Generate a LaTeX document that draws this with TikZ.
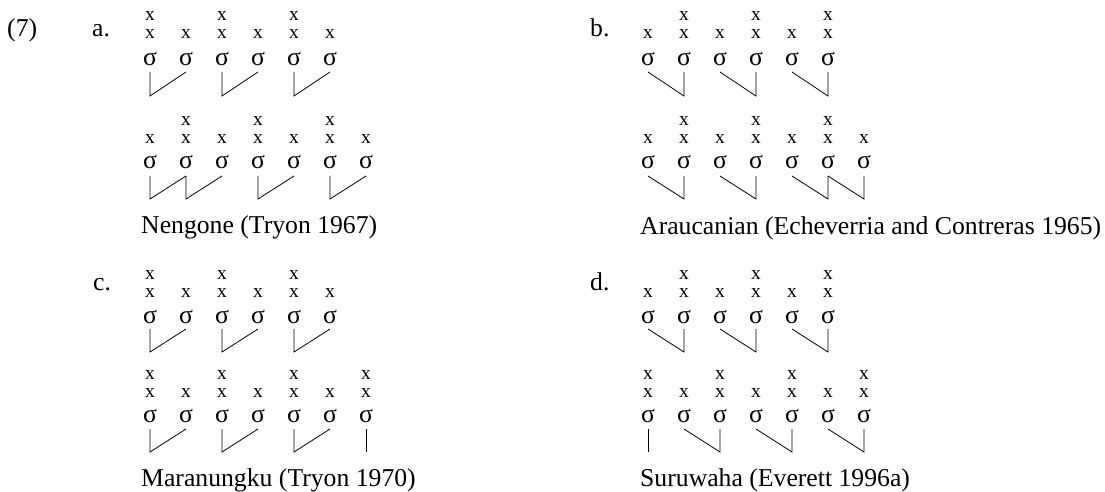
\documentclass[tikz,border=0pt]{standalone}
\usepackage{fontspec}
\setmainfont{Liberation Serif}
\usetikzlibrary{positioning,calc}
\tikzset{
  syl/.style={inner sep=0pt, anchor=base, font=\fontsize{25.7}{28}\selectfont},
  gx/.style={inner sep=0pt, anchor=base, font=\fontsize{19.5}{21}\selectfont},
  lab/.style={inner sep=0pt, anchor=base west, font=\fontsize{25.7}{28}\selectfont},
  assoc/.style={draw=black, line width=0.8pt},
}

\begin{document}
\begin{tikzpicture}[x=1pt, y=-1pt]
  \useasboundingbox (0,0) rectangle (1105,491);
  % labels
  \node[lab] (num) at (7,36) {(7)};
  \node[lab] (la) at (92,36) {a.};
  \node[lab] (lb) at (590,36) {b.};
  \node[lab] (lc) at (93,290) {c.};
  \node[lab] (ld) at (590,290) {d.};
  \node[lab] (ca) at (141,233) {Nengone (Tryon 1967)};
  \node[lab] (cb) at (640,234) {Araucanian (Echeverria and Contreras 1965)};
  \node[lab] (cc) at (141,486) {Maranungku (Tryon 1970)};
  \node[lab] (cd) at (640,486) {Suruwaha (Everett 1996a)};

  % a. Nengone
  \foreach \h [count=\i] in {2,1,2,1,2,1} {
    \node[syl] (a1-\i) at ({150+36*(\i-1)},65) {σ};
    \node[gx] (a1-\i-x) at ({150+36*(\i-1)},38) {x};
    \ifnum\h=2 \node[gx] (a1-\i-xx) at ({150+36*(\i-1)},20) {x}; \fi
  }
  \foreach \h [count=\i] in {1,2,1,2,1,2,1} {
    \node[syl] (a2-\i) at ({150+36*(\i-1)},168) {σ};
    \node[gx] (a2-\i-x) at ({150+36*(\i-1)},143) {x};
    \ifnum\h=2 \node[gx] (a2-\i-xx) at ({150+36*(\i-1)},125) {x}; \fi
  }
  \foreach \s/\w in {1/2,3/4,5/6}
    \draw[assoc] ([yshift=-7pt]a1-\s.base) -- ([yshift=-31pt]a1-\s.base) -- ([yshift=-7pt]a1-\w.base);
  \foreach \s/\w in {1/2,2/3,4/5,6/7}
    \draw[assoc] ([yshift=-8pt]a2-\s.base) -- ([yshift=-31pt]a2-\s.base) -- ([yshift=-8pt]a2-\w.base);

  % b. Araucanian
  \foreach \h [count=\i] in {1,2,1,2,1,2} {
    \node[syl] (b1-\i) at ({648+36*(\i-1)},65) {σ};
    \node[gx] (b1-\i-x) at ({648+36*(\i-1)},38) {x};
    \ifnum\h=2 \node[gx] (b1-\i-xx) at ({648+36*(\i-1)},20) {x}; \fi
  }
  \foreach \h [count=\i] in {1,2,1,2,1,2,1} {
    \node[syl] (b2-\i) at ({648+36*(\i-1)},168) {σ};
    \node[gx] (b2-\i-x) at ({648+36*(\i-1)},143) {x};
    \ifnum\h=2 \node[gx] (b2-\i-xx) at ({648+36*(\i-1)},125) {x}; \fi
  }
  \foreach \w/\s in {1/2,3/4,5/6}
    \draw[assoc] ([yshift=-7pt]b1-\w.base) -- ([yshift=-31pt]b1-\s.base) -- ([yshift=-7pt]b1-\s.base);
  \foreach \w/\s in {1/2,3/4,5/6,6/7}
    \draw[assoc] ([yshift=-8pt]b2-\w.base) -- ([yshift=-31pt]b2-\s.base) -- ([yshift=-8pt]b2-\s.base);

  % c. Maranungku
  \foreach \h [count=\i] in {2,1,2,1,2,1} {
    \node[syl] (c1-\i) at ({150+36*(\i-1)},323) {σ};
    \node[gx] (c1-\i-x) at ({150+36*(\i-1)},297) {x};
    \ifnum\h=2 \node[gx] (c1-\i-xx) at ({150+36*(\i-1)},279) {x}; \fi
  }
  \foreach \h [count=\i] in {2,1,2,1,2,1,2} {
    \node[syl] (c2-\i) at ({150+36*(\i-1)},422) {σ};
    \node[gx] (c2-\i-x) at ({150+36*(\i-1)},397) {x};
    \ifnum\h=2 \node[gx] (c2-\i-xx) at ({150+36*(\i-1)},379) {x}; \fi
  }
  \foreach \s/\w in {1/2,3/4,5/6}
    \draw[assoc] ([yshift=-6pt]c1-\s.base) -- ([yshift=-29pt]c1-\s.base) -- ([yshift=-6pt]c1-\w.base);
  \foreach \s/\w in {1/2,3/4,5/6}
    \draw[assoc] ([yshift=-7pt]c2-\s.base) -- ([yshift=-30pt]c2-\s.base) -- ([yshift=-7pt]c2-\w.base);
  \draw[assoc] ([yshift=-7pt]c2-7.base) -- ([yshift=-30pt]c2-7.base);

  % d. Suruwaha
  \foreach \h [count=\i] in {1,2,1,2,1,2} {
    \node[syl] (d1-\i) at ({648+36*(\i-1)},323) {σ};
    \node[gx] (d1-\i-x) at ({648+36*(\i-1)},297) {x};
    \ifnum\h=2 \node[gx] (d1-\i-xx) at ({648+36*(\i-1)},279) {x}; \fi
  }
  \foreach \h [count=\i] in {2,1,2,1,2,1,2} {
    \node[syl] (d2-\i) at ({648+36*(\i-1)},422) {σ};
    \node[gx] (d2-\i-x) at ({648+36*(\i-1)},397) {x};
    \ifnum\h=2 \node[gx] (d2-\i-xx) at ({648+36*(\i-1)},379) {x}; \fi
  }
  \foreach \w/\s in {1/2,3/4,5/6}
    \draw[assoc] ([yshift=-6pt]d1-\w.base) -- ([yshift=-29pt]d1-\s.base) -- ([yshift=-6pt]d1-\s.base);
  \draw[assoc] ([yshift=-7pt]d2-1.base) -- ([yshift=-30pt]d2-1.base);
  \foreach \w/\s in {2/3,4/5,6/7}
    \draw[assoc] ([yshift=-7pt]d2-\w.base) -- ([yshift=-30pt]d2-\s.base) -- ([yshift=-7pt]d2-\s.base);
\end{tikzpicture}
\end{document}
